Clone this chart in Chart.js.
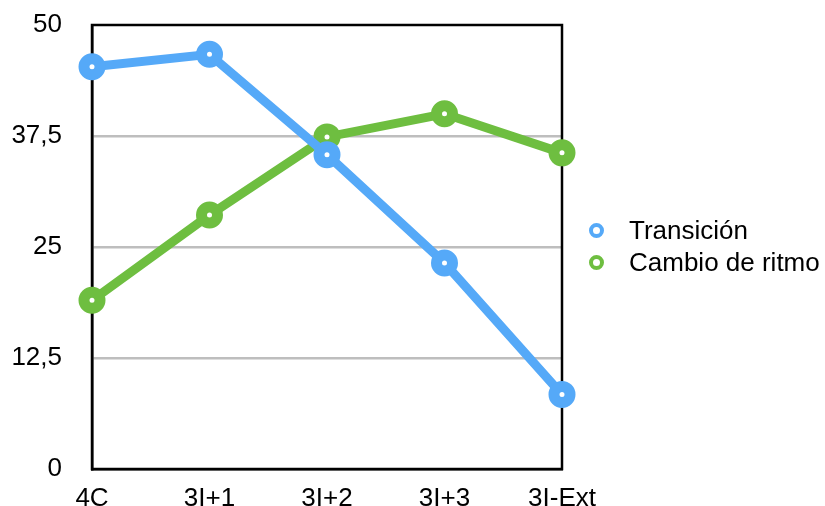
<!DOCTYPE html>
<html>
<head>
<meta charset="utf-8">
<script src="https://cdn.jsdelivr.net/npm/chart.js@4/dist/chart.umd.min.js"></script>
<style>
  html, body { margin: 0; padding: 0; background: #fff; }
  #wrap { position: relative; width: 825px; height: 506px; }
  #legend {
    position: absolute; left: 589px; top: 214px;
    margin: 0; padding: 0; list-style: none;
    font-family: 'Liberation Sans', Arial, Helvetica, sans-serif;
    font-size: 26px; color: #000;
  }
  #legend li { height: 32px; line-height: 32px; white-space: nowrap; display: flex; align-items: center; }
  #legend .dot {
    box-sizing: border-box;
    width: 15px; height: 15px; border-radius: 50%;
    border: 4px solid; background: #fff;
    margin-right: 25px;
  }
</style>
</head>
<body>
<div id="wrap">
  <canvas id="lineChart"></canvas>
  <ul id="legend"></ul>
</div>
<script>
// categorias y series
const categories = ['4C', '3I+1', '3I+2', '3I+3', '3I-Ext'];
const transicion = [45.3, 46.7, 35.4, 23.2, 8.4];
const cambioRitmo = [19.0, 28.6, 37.4, 40.0, 35.6];
const yTicks = [0, 12.5, 25, 37.5, 50];

const BLUE = '#55A9F8';
const GREEN = '#6EBE40';
const FONT = "'Liberation Sans', Arial, Helvetica, sans-serif";

// marco negro alrededor del area de trazado
const frameBox = {
    id: 'frameBox',
    beforeDatasetsDraw(chart) {
        const { ctx, chartArea: a } = chart;
        ctx.save();
        ctx.strokeStyle = '#000';
        ctx.lineWidth = 2.5;
        ctx.strokeRect(a.left, a.top, a.right - a.left, a.bottom - a.top);
        ctx.restore();
    }
};

// leyenda en html a la derecha
const htmlLegend = {
    id: 'htmlLegend',
    afterUpdate(chart) {
        const ul = document.getElementById('legend');
        ul.innerHTML = '';
        chart.data.datasets.forEach(ds => {
            const li = document.createElement('li');
            const dot = document.createElement('span');
            dot.className = 'dot';
            dot.style.borderColor = ds.borderColor;
            li.appendChild(dot);
            li.appendChild(document.createTextNode(ds.label));
            ul.appendChild(li);
        });
    }
};

function lineSet(label, data, color) {
    return {
        label: label,
        data: data,
        borderColor: color,
        backgroundColor: '#fff',
        borderWidth: 9,
        pointRadius: 8,
        pointHoverRadius: 8,
        pointBorderWidth: 11,
        pointBackgroundColor: '#fff',
        pointBorderColor: color,
        tension: 0,
        clip: false
    };
}

new Chart(document.getElementById('lineChart'), {
    type: 'line',
    data: {
        labels: categories,
        datasets: [
            lineSet('Transición', transicion, BLUE),
            lineSet('Cambio de ritmo', cambioRitmo, GREEN)
        ]
    },
    options: {
        responsive: true,
        maintainAspectRatio: false,
        animation: false,
        layout: { padding: { top: 25, right: 263, bottom: 0, left: 11 } },
        plugins: {
            tooltip: { enabled: false },
            legend: { display: false }
        },
        scales: {
            x: {
                offset: false,
                grid: { display: false, drawTicks: false },
                border: { color: '#000', width: 2.5 },
                ticks: {
                    color: '#000',
                    padding: 17,
                    maxRotation: 0,
                    font: { family: FONT, size: 26, lineHeight: 1 }
                },
                afterFit(s) {
                    s.height = 37;
                    s.paddingLeft = 0;
                    s.paddingRight = 0;
                }
            },
            y: {
                min: 0,
                max: 50,
                afterBuildTicks(axis) {
                    axis.ticks = yTicks.map(v => ({ value: v }));
                },
                grid: {
                    drawTicks: false,
                    lineWidth: 2.5,
                    color: ctx => (ctx.tick.value === 0 || ctx.tick.value === 50) ? 'rgba(0,0,0,0)' : '#BEBEBE'
                },
                border: { color: '#000', width: 2.5 },
                ticks: {
                    color: '#000',
                    padding: 30,
                    font: { family: FONT, size: 26 },
                    callback: v => String(v).replace('.', ',')
                },
                afterFit(s) {
                    s.width = 81;
                    s.paddingTop = 0;
                    s.paddingBottom = 0;
                }
            }
        }
    },
    plugins: [frameBox, htmlLegend]
});
</script>
</body>
</html>
